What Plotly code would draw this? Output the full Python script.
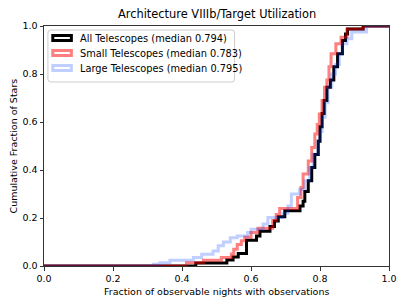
import plotly.graph_objects as go

# ---- data ----
all_edges = [0.44, 0.53, 0.548, 0.563, 0.587, 0.616, 0.626, 0.655, 0.668, 0.679, 0.698,
             0.742, 0.751, 0.756, 0.766, 0.776, 0.785, 0.795, 0.80, 0.806, 0.812,
             0.82, 0.83, 0.84, 0.851, 0.865, 0.874, 0.88, 0.925]
all_cdf = [0.012, 0.025, 0.038, 0.052, 0.107, 0.125, 0.145, 0.165, 0.188, 0.205, 0.23,
           0.25, 0.27, 0.31, 0.355, 0.41, 0.465, 0.52, 0.58, 0.635, 0.69,
           0.745, 0.775, 0.83, 0.884, 0.94, 0.967, 0.988, 1.0]

small_edges = [0.413, 0.462, 0.514, 0.543, 0.55, 0.56, 0.572, 0.582, 0.60, 0.62, 0.663,
               0.673, 0.683, 0.735, 0.745, 0.751, 0.766, 0.776, 0.785, 0.792, 0.798,
               0.806, 0.813, 0.82, 0.826, 0.832, 0.846, 0.861, 0.878, 0.925]
small_cdf = [0.014, 0.024, 0.035, 0.05, 0.07, 0.09, 0.105, 0.12, 0.14, 0.157, 0.19,
             0.215, 0.24, 0.285, 0.327, 0.383, 0.438, 0.494, 0.55, 0.59, 0.633,
             0.69, 0.745, 0.775, 0.83, 0.884, 0.926, 0.953, 0.988, 1.0]

large_edges = [0.317, 0.336, 0.365, 0.433, 0.457, 0.49, 0.505, 0.52, 0.54, 0.56, 0.59,
               0.60, 0.635, 0.649, 0.693, 0.707, 0.717, 0.741, 0.756, 0.77, 0.78,
               0.794, 0.80, 0.806, 0.815, 0.823, 0.834, 0.845, 0.856, 0.865, 0.878,
               0.892, 0.935]
large_cdf = [0.007, 0.014, 0.024, 0.035, 0.049, 0.063, 0.084, 0.1, 0.118, 0.125, 0.14,
             0.153, 0.175, 0.202, 0.22, 0.25, 0.3, 0.32, 0.355, 0.41, 0.466,
             0.522, 0.56, 0.62, 0.68, 0.745, 0.80, 0.84, 0.884, 0.926, 0.947,
             0.975, 1.0]

labels = ["All Telescopes (median 0.794)",
          "Small Telescopes (median 0.783)",
          "Large Telescopes (median 0.795)"]
colors = ["rgb(0,0,0)", "rgba(255,0,0,0.5)", "rgba(0,64,255,0.25)"]

title = "Architecture VIIIb/Target Utilization"
xlabel = "Fraction of observable nights with observations"
ylabel = "Cumulative Fraction of Stars"
ticks = [0.0, 0.2, 0.4, 0.6, 0.8, 1.0]
tick_text = ["0.0", "0.2", "0.4", "0.6", "0.8", "1.0"]

# ---- layout geometry (page pixels; the page body has an 8px margin) ----
OFF = 8
W, H = 407 - OFF, 305 - OFF
AX_L, AX_R, AX_T, AX_B = 44, 397, 26, 266          # plot area in page pixels
L, T = AX_L - OFF, AX_T - OFF
R, B = W - (AX_R - OFF), H - (AX_B - OFF)
PW, PH = AX_R - AX_L, AX_B - AX_T
FONT = "DejaVu Sans"
FS = 9.5


def px(x):
    return (x - AX_L) / PW


def py(y):
    return (AX_B - y) / PH


def rounded_rect(x0, y0, x1, y1, r):
    pts = [
        ("M", x0 + r, y0), ("L", x1 - r, y0), ("Q", x1, y0, x1, y0 + r),
        ("L", x1, y1 - r), ("Q", x1, y1, x1 - r, y1), ("L", x0 + r, y1),
        ("Q", x0, y1, x0, y1 - r), ("L", x0, y0 + r), ("Q", x0, y0, x0 + r, y0),
    ]
    out = []
    for p in pts:
        cmd = p[0]
        coords = p[1:]
        pairs = []
        for i in range(0, len(coords), 2):
            pairs.append(f"{px(coords[i]):.5f},{py(coords[i + 1]):.5f}")
        out.append(cmd + " ".join(pairs))
    return " ".join(out) + " Z"


fig = go.Figure()
for edges, cdf, col in [(all_edges, all_cdf, colors[0]),
                        (small_edges, small_cdf, colors[1]),
                        (large_edges, large_cdf, colors[2])]:
    xs = [0.0] + edges + [1.0]
    ys = [0.0] + cdf + [cdf[-1]]
    fig.add_trace(go.Scatter(x=xs, y=ys, mode="lines", line_shape="hv",
                             line=dict(color=col, width=3), showlegend=False,
                             hoverinfo="skip"))

axis_common = dict(range=[0, 1], tickvals=ticks, ticktext=tick_text,
                   showgrid=False, zeroline=False, showline=True, mirror=True,
                   linecolor="#333", linewidth=1, ticks="outside", ticklen=3.5,
                   tickwidth=1, tickcolor="#333",
                   tickfont=dict(family=FONT, size=FS, color="#000"))
fig.update_xaxes(**axis_common)
fig.update_yaxes(**axis_common)

shapes = []
annotations = []
# legend frame
shapes.append(dict(type="path", xref="paper", yref="paper",
                   path=rounded_rect(48, 30, 239, 82, 3),
                   line=dict(color="#cccccc", width=1),
                   fillcolor="rgba(255,255,255,0.8)", layer="above"))
rows = [38, 53, 68]
for row, lab, col in zip(rows, labels, colors):
    shapes.append(dict(type="rect", xref="paper", yref="paper",
                       x0=px(53), x1=px(72), y0=py(row + 2.6), y1=py(row - 2.6),
                       line=dict(color=col, width=3), fillcolor="rgba(0,0,0,0)",
                       layer="above"))
    annotations.append(dict(text=lab, xref="paper", yref="paper", x=px(79), y=py(row),
                            xanchor="left", yanchor="middle", showarrow=False,
                            font=dict(family=FONT, size=9.8, color="#000")))

annotations.append(dict(text=title, xref="paper", yref="paper", x=0.5, y=1,
                        xanchor="center", yanchor="bottom", yshift=3, showarrow=False,
                        font=dict(family=FONT, size=11.4, color="#000")))
annotations.append(dict(text=xlabel, xref="paper", yref="paper", x=0.5, y=0,
                        xanchor="center", yanchor="top", yshift=-18, showarrow=False,
                        font=dict(family=FONT, size=FS, color="#000")))
annotations.append(dict(text=ylabel, xref="paper", yref="paper", x=0, y=0.5,
                        xanchor="right", yanchor="middle", xshift=-24, textangle=-90,
                        showarrow=False,
                        font=dict(family=FONT, size=FS, color="#000")))

fig.update_layout(width=W, height=H, margin=dict(l=L, r=R, t=T, b=B),
                  paper_bgcolor="white", plot_bgcolor="white",
                  shapes=shapes, annotations=annotations, showlegend=False)

fig.write_html("out.html")
